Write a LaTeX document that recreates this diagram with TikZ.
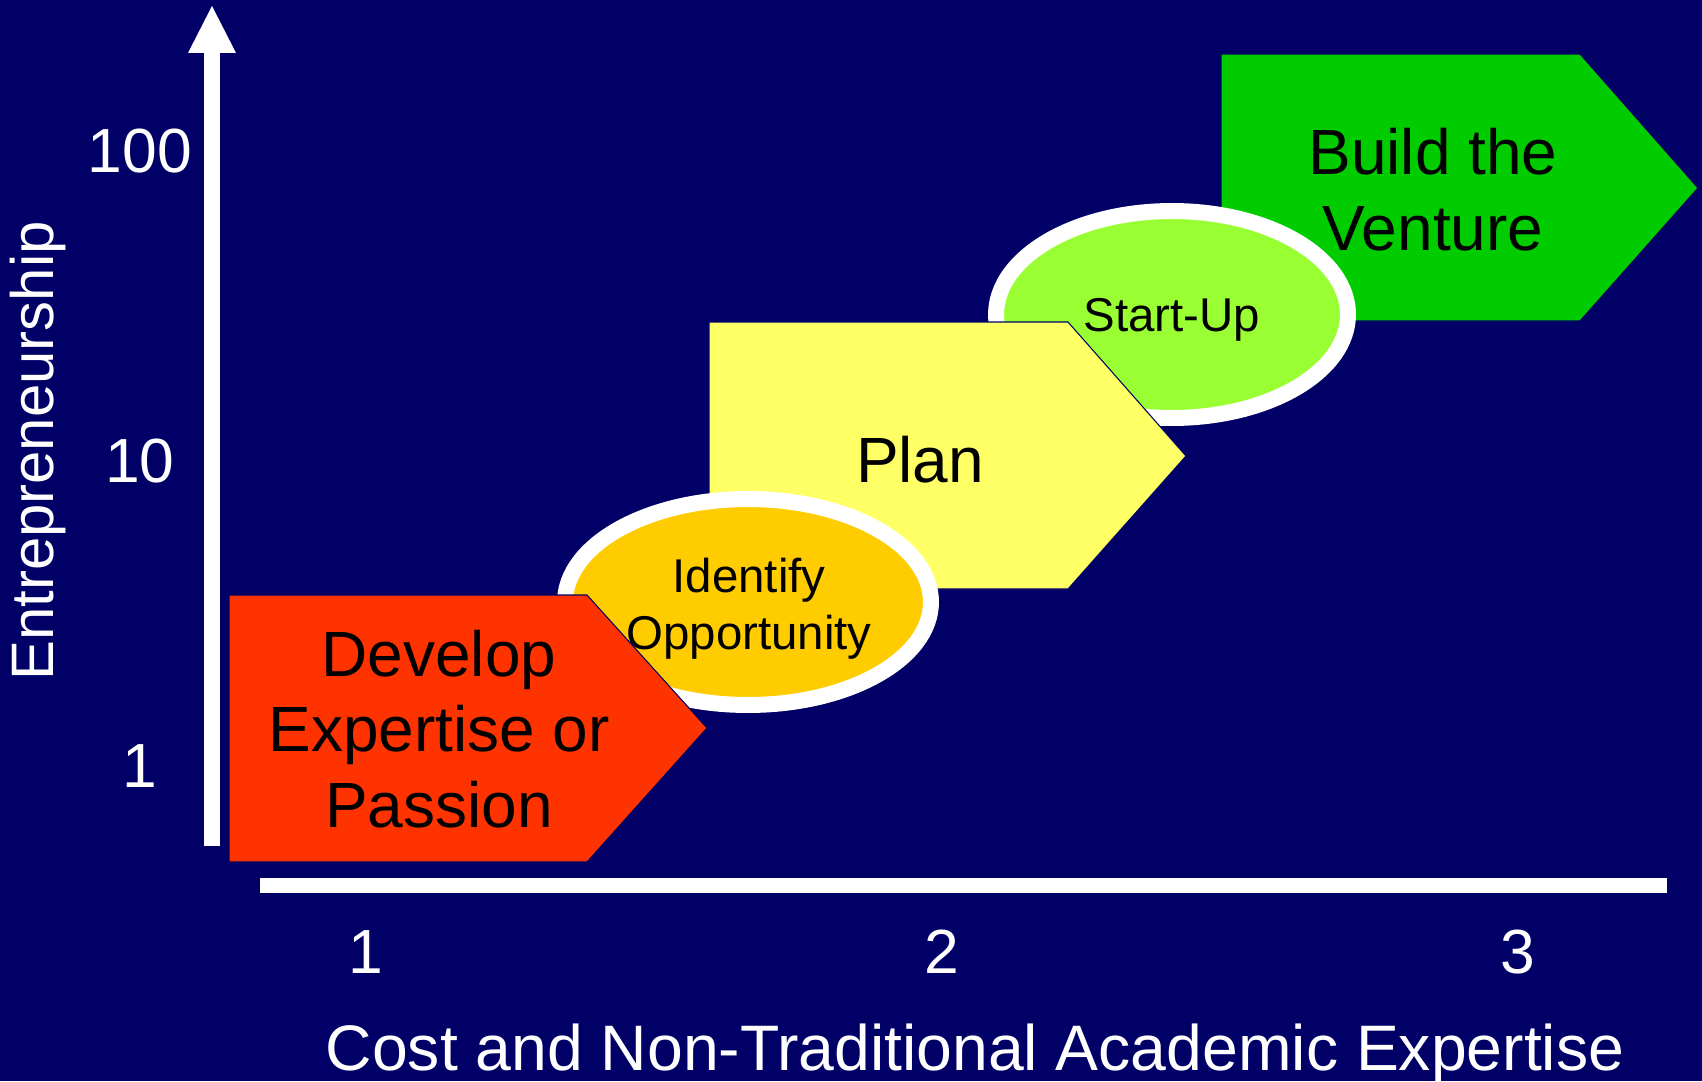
\documentclass[tikz,border=0pt]{standalone}
\usepackage{fontspec}
\setmainfont{Liberation Sans}
\usetikzlibrary{arrows.meta,shapes.geometric}

\begin{document}
\begin{tikzpicture}[x=0.02cm,y=-0.02cm]
    \definecolor{mynavy}{RGB}{0,0,102}
    \definecolor{myred}{RGB}{255,51,0}
    \definecolor{myorange}{RGB}{255,204,0}
    \definecolor{mylemon}{RGB}{255,255,102}
    \definecolor{mylime}{RGB}{153,255,51}
    \definecolor{mygreen}{RGB}{0,204,0}

    \tikzstyle{stage}=[draw=mynavy,line width=0.6pt]  % 五边形阶段块
    \tikzstyle{bigtext}=[font=\fontsize{36.4pt}{43pt}\selectfont,align=center,inner sep=0pt]
    \tikzstyle{oval}=[ellipse,draw=white,line width=0.32cm,inner sep=0pt]  % 椭圆,白色粗边
    \tikzstyle{ovaltext}=[font=\fontsize{27pt}{32.4pt}\selectfont,align=center,inner sep=0pt]
    \tikzstyle{axis}=[white,line width=0.32cm]
    \tikzstyle{tick}=[white,font=\fontsize{35.5pt}{43pt}\selectfont,anchor=base,inner sep=0pt]

    % 背景
    \useasboundingbox (0,0) rectangle (1702,1081);
    \fill[mynavy] (0,0) rectangle (1702,1081);

    % 阶段块,从后往前画
    \filldraw[stage,fill=mygreen] (1221,54) -- (1580,54) -- (1698,188) -- (1580,321) -- (1221,321) -- cycle;
    \node[oval,fill=mylime,minimum width=7.04cm,minimum height=4.14cm](startup) at (1172,314.5){};
    \node[ovaltext](startuptext) at (1172,319.5){Start-Up};
    \filldraw[stage,fill=mylemon] (709,322) -- (1068,322) -- (1186,456) -- (1068,589) -- (709,589) -- cycle;
    \node[oval,fill=myorange,minimum width=7.32cm,minimum height=4.12cm](identify) at (748,602){};
    \node[ovaltext](identifytext) at (749,609){Identify\\Opportunity};
    \filldraw[stage,fill=myred] (229,595) -- (587,595) -- (707,728) -- (587,862) -- (229,862) -- cycle;

    % 块内文字
    \node[bigtext](build) at (1433,189.5){Build the\\Venture};
    \node[bigtext,anchor=base](plan) at (920,482){Plan};
    \node[bigtext](develop) at (439,729){Develop\\Expertise or\\Passion};

    % 坐标轴
    \coordinate (yfoot) at (212,846);
    \coordinate (ytop) at (212,6);
    \coordinate (xleft) at (260,885.5);
    \coordinate (xright) at (1667,885.5);
    \draw[axis,-{Triangle[width=0.96cm,length=0.94cm,line width=0pt]}](yfoot) -- (ytop);
    \draw[axis,line width=0.3cm](xleft) -- (xright);

    % 刻度与轴标题
    \node[tick](y100) at (140,173){100};
    \node[tick](y10) at (140,482){10};
    \node[tick](y1) at (140,787){1};
    \node[tick](x1) at (366,973){1};
    \node[tick](x2) at (942,973){2};
    \node[tick](x3) at (1518,973){3};
    \node[white,font=\fontsize{36.6pt}{43pt}\selectfont,anchor=base,inner sep=0pt](xlabel) at (975,1070){Cost and Non-Traditional Academic Expertise};
    \node[white,font=\fontsize{34.1pt}{40pt}\selectfont,anchor=base,rotate=90,inner sep=0pt](ylabel) at (53,451){Entrepreneurship};
\end{tikzpicture}
\end{document}
